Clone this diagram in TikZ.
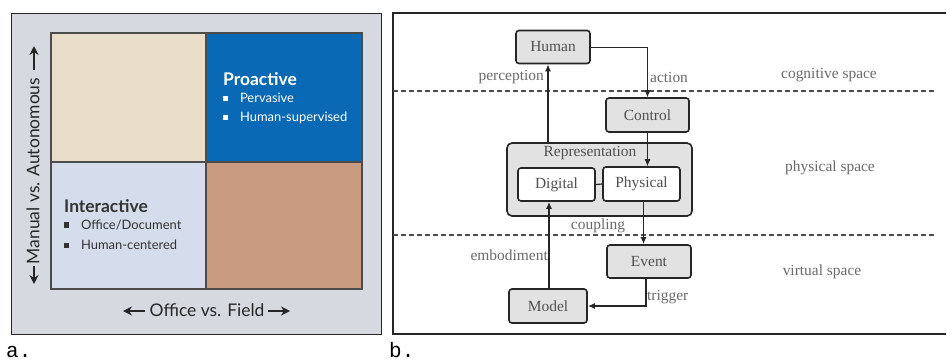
\documentclass[tikz,border=0pt]{standalone}
\usepackage{fontspec}
\setmainfont{Liberation Serif}
\newfontfamily\gill{Lato}
\newfontfamily\mono{Liberation Mono}
\usetikzlibrary{arrows.meta,calc}
\definecolor{outerbg}{HTML}{D6DAE0}
\definecolor{beige}{HTML}{E8DDC8}
\definecolor{qblue}{HTML}{0A69B4}
\definecolor{qlight}{HTML}{D5DCEC}
\definecolor{qtan}{HTML}{C99B80}
\definecolor{boxfill}{HTML}{E2E2E2}
\definecolor{txt}{HTML}{505050}
\definecolor{lbl}{HTML}{6A6A6A}
\tikzset{
  gbox/.style={draw=black!85,line width=1.6bp,rounded corners=3bp,fill=boxfill,minimum height=33bp,text=txt,font=\fontsize{15.5}{17}\selectfont},
  wbox/.style={draw=black!85,line width=1.6bp,rounded corners=3bp,fill=white,minimum height=33bp,text=txt,font=\fontsize{15.5}{17}\selectfont},
  lab/.style={text=lbl,font=\fontsize{15.5}{17}\selectfont,inner sep=0pt},
  thinarr/.style={draw=black!85,line width=0.9bp,-{Latex[length=7bp,width=6bp]}},
  thickarr/.style={draw=black!85,line width=1.8bp,-{Latex[length=7bp,width=6bp]}},
  sep/.style={draw=black!70,line width=1.5bp,dash pattern=on 5bp off 3bp},
  quad/.style={draw=black!70,line width=1.2bp},
  bul/.style={font=\gill\fontsize{13}{15}\selectfont,inner sep=0pt,anchor=west},
  ttl/.style={font=\gill\bfseries\fontsize{17.5}{19}\selectfont,inner sep=0pt,anchor=west},
  axis/.style={font=\gill\fontsize{17.5}{19}\selectfont,inner sep=0pt,text=black!85},
  axarr/.style={draw=black!85,line width=2bp,-{Stealth[length=9bp,width=9bp]}},
  plabel/.style={font=\mono\fontsize{21}{23}\selectfont,anchor=base west,inner sep=0pt}
}
\newcommand{\sqb}{\rule[0.15em]{0.4em}{0.4em}\hspace{0.9em}}
\begin{document}
\begin{tikzpicture}[x=1bp,y=-1bp]
\useasboundingbox (0,0) rectangle (947,363);
\fill[white] (0,0) rectangle (947,363);
% ---------------- panel a ----------------
\node[draw=black!85,line width=1.2bp,fill=outerbg,minimum width=370bp,minimum height=321bp,anchor=north west,inner sep=0pt] (framea) at (11,13) {};
\fill[beige] (51,33) rectangle (206,162);
\fill[qblue] (206,33) rectangle (362,162);
\fill[qlight] (51,162) rectangle (206,289);
\fill[qtan] (206,162) rectangle (362,289);
\draw[quad] (51,33) rectangle (362,289);
\draw[quad] (206,33) -- (206,289);
\draw[quad] (51,162) -- (362,162);
\node[ttl,text=white] (pro) at (223,79) {Proactive};
\node[bul,text=white] (pro1) at (223,98) {\sqb Pervasive};
\node[bul,text=white] (pro2) at (223,118) {\sqb Human-supervised};
\node[ttl,text=black!80] (inter) at (64,206) {Interactive};
\node[bul,text=black!80] (int1) at (64,225) {\sqb Office/Document};
\node[bul,text=black!80] (int2) at (64,245) {\sqb Human-centered};
\node[axis] (xax) at (207,310) {Office vs. Field};
\coordinate (xl) at (123,311);
\coordinate (xl0) at (145,311);
\coordinate (xr) at (290,311);
\coordinate (xr0) at (268,311);
\draw[axarr] (xl0) -- (xl);
\draw[axarr] (xr0) -- (xr);
\node[axis,rotate=90] (yax) at (33,171) {Manual vs. Autonomous};
\coordinate (yt) at (34,46);
\coordinate (yt0) at (34,70);
\coordinate (yb) at (34,284);
\coordinate (yb0) at (34,266);
\draw[axarr] (yt0) -- (yt);
\draw[axarr] (yb0) -- (yb);
\node[plabel] (la) at (6,357) {a.};
\node[plabel] (lb) at (389,357) {b.};
% ---------------- panel b ----------------
\draw[black!85,line width=1.2bp] (946,13) -- (393,13) -- (393,334) -- (946,334);
\draw[sep] (393,91) -- (937,91);
\draw[sep] (393,235) -- (937,235);
\node[gbox,minimum width=74bp] (human) at (553,47) {Human};
\node[gbox,minimum width=83bp,minimum height=34bp] (control) at (647.5,115) {Control};
\node[draw=black!85,line width=1.6bp,rounded corners=5bp,fill=boxfill,minimum width=185bp,minimum height=73bp] (rep) at (599.5,179.5) {};
\node[text=txt,font=\fontsize{15.5}{17}\selectfont,inner sep=0pt] (replab) at (590,153) {Representation};
\node[wbox,minimum width=77bp] (digital) at (556.5,184.5) {Digital};
\node[wbox,minimum width=77bp,minimum height=34bp] (physical) at (641.5,184) {Physical};
\node[gbox,minimum width=84bp] (event) at (649,261.5) {Event};
\node[gbox,minimum width=78bp,minimum height=34bp] (model) at (548,306) {Model};
\draw[black!85,line width=1.2bp] (digital.east) -- (physical.west);
% arrows
\draw[thinarr] (human.east) -| (control.north);
\draw[thickarr] ([xshift=-5bp]human.south |- rep.north) -- ([xshift=-5bp]human.south);
\draw[thinarr] (control.south) -- (control.south |- physical.north);
\draw[thickarr] ([xshift=2bp]physical.south) -- ([xshift=2bp]physical.south |- event.north);
\draw[thickarr] ([xshift=1bp]model.north) -- ([xshift=1bp]model.north |- digital.south);
\draw[thickarr] ([xshift=-3bp]event.south) |- (model.east);
% labels
\node[lab,anchor=east] (perc) at (544,77) {perception};
\node[lab,anchor=west] (act) at (650,77) {action};
\node[lab] (cog) at (829,75) {cognitive space};
\node[lab] (phys) at (830,168) {physical space};
\node[lab] (coup) at (598,226) {coupling};
\node[lab,anchor=east] (emb) at (548,255) {embodiment};
\node[lab] (virt) at (822,272) {virtual space};
\node[lab,anchor=west] (trig) at (647,297) {trigger};
\end{tikzpicture}
\end{document}
